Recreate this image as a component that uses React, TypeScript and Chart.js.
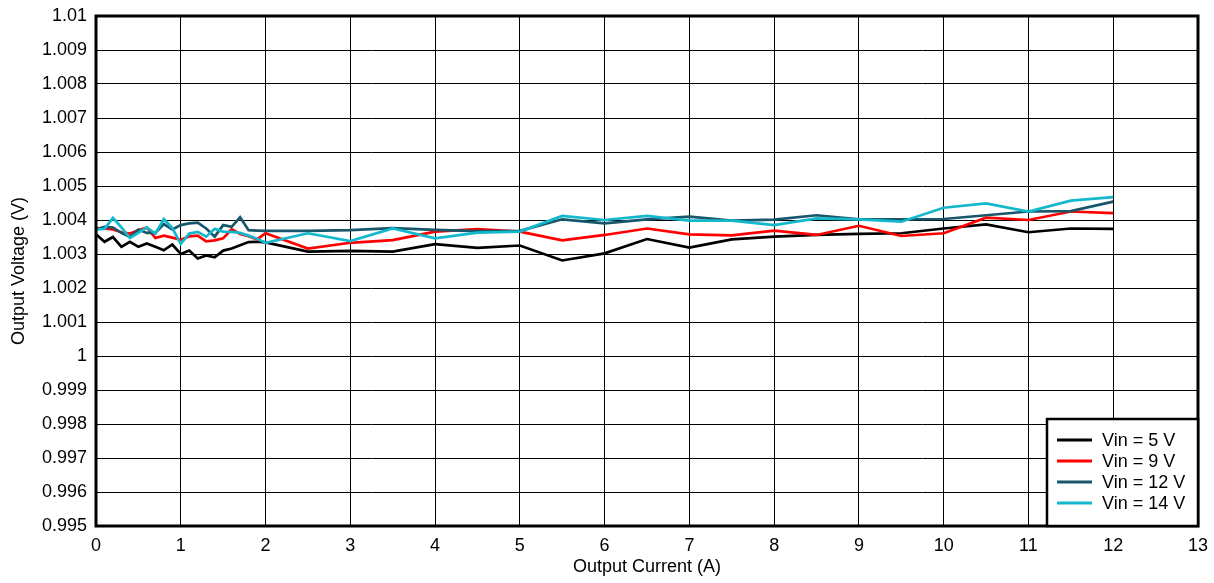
import React, { useEffect, useRef } from "react";
import { Chart, registerables } from "chart.js";

Chart.register(...registerables);

const currents = [
  0, 0.1, 0.2, 0.3, 0.4, 0.5, 0.6, 0.7, 0.8, 0.9, 1.0, 1.1, 1.2, 1.3, 1.4, 1.5, 1.6, 1.7, 1.8, 1.9, 2.0,
  2.5, 3, 3.5, 4, 4.5, 5, 5.5, 6, 6.5, 7, 7.5, 8, 8.5, 9, 9.5, 10, 10.5, 11, 11.5, 12,
];

const vin5 = [
  1.00358, 1.00336, 1.0035, 1.00321, 1.00336, 1.00321, 1.00331, 1.00321, 1.00311, 1.00328, 1.003,
  1.0031, 1.00287, 1.00296, 1.0029, 1.0031, 1.00316, 1.00326, 1.00335, 1.00336, 1.00334,
  1.00307, 1.00309, 1.00307, 1.00329, 1.00318, 1.00325, 1.00281, 1.00302, 1.00344, 1.00319,
  1.00343, 1.00351, 1.00356, 1.00359, 1.00361, 1.00375, 1.00387, 1.00364, 1.00375, 1.00374,
];

const vin9 = [
  1.00376, 1.00375, 1.00372, 1.00364, 1.0036, 1.0037, 1.00378, 1.00347, 1.00354, 1.00348, 1.00342,
  1.00352, 1.00354, 1.00337, 1.0034, 1.00346, 1.00373, 1.00359, 1.00352, 1.00343, 1.00361,
  1.00316, 1.00333, 1.00341, 1.00366, 1.00373, 1.00366, 1.0034, 1.00356, 1.00375, 1.00358,
  1.00355, 1.00369, 1.00356, 1.00383, 1.00353, 1.00361, 1.00407, 1.004, 1.00425, 1.0042,
];

const vin12 = [
  1.00372, 1.0038, 1.00378, 1.00362, 1.0035, 1.00372, 1.00362, 1.00362, 1.00388, 1.00372, 1.00385,
  1.0039, 1.00392, 1.00375, 1.00351, 1.00385, 1.0038, 1.00408, 1.0037, 1.00369, 1.00368,
  1.00368, 1.0037, 1.00376, 1.00371, 1.00367, 1.00368, 1.00402, 1.0039, 1.00402, 1.0041,
  1.00398, 1.00401, 1.00414, 1.00402, 1.00402, 1.00403, 1.00414, 1.00425, 1.00426, 1.00454,
];

const vin14 = [
  1.00372, 1.00374, 1.00406, 1.00378, 1.00347, 1.00362, 1.00378, 1.0036, 1.00403, 1.00376, 1.0033,
  1.0036, 1.00365, 1.00351, 1.00374, 1.00366, 1.00365, 1.00362, 1.00354, 1.00345, 1.00333,
  1.00361, 1.00338, 1.00375, 1.00346, 1.00363, 1.00366, 1.00412, 1.004, 1.00412, 1.00398,
  1.00398, 1.00385, 1.00405, 1.00402, 1.00395, 1.00436, 1.00449, 1.00425, 1.00457, 1.00467,
];

const seriesLabels = ["Vin = 5 V", "Vin = 9 V", "Vin = 12 V", "Vin = 14 V"];
const seriesColors = ["#000000", "#FF0000", "#17566B", "#14B8CC"];

const xTickValues = [0, 1, 2, 3, 4, 5, 6, 7, 8, 9, 10, 11, 12, 13];
const xTickLabels = ["0", "1", "2", "3", "4", "5", "6", "7", "8", "9", "10", "11", "12", "13"];
const yTickValues = [
  0.995, 0.996, 0.997, 0.998, 0.999, 1.0, 1.001, 1.002, 1.003, 1.004, 1.005, 1.006, 1.007, 1.008,
  1.009, 1.01,
];
const yTickLabels = [
  "0.995", "0.996", "0.997", "0.998", "0.999", "1", "1.001", "1.002", "1.003", "1.004", "1.005",
  "1.006", "1.007", "1.008", "1.009", "1.01",
];

const FONT = "'Liberation Sans', Arial, sans-serif";

const framePlugin = {
  id: "frameAndLegend",
  afterDraw(chart: any) {
    const { ctx, chartArea } = chart;
    const { left, top, right, bottom } = chartArea;
    ctx.save();
    // frame
    ctx.strokeStyle = "#000";
    ctx.lineWidth = 3;
    ctx.strokeRect(left, top, right - left, bottom - top);

    // legend box
    const bx = right - 151;
    const by = bottom - 107;
    const bw = 151;
    const bh = 107;
    ctx.fillStyle = "#fff";
    ctx.fillRect(bx, by, bw, bh);
    ctx.lineWidth = 2.5;
    ctx.strokeRect(bx, by, bw, bh);

    ctx.font = `18px ${FONT}`;
    ctx.textBaseline = "middle";
    ctx.textAlign = "left";
    seriesLabels.forEach((lab, i) => {
      const cy = by + 21 + i * 21;
      ctx.strokeStyle = seriesColors[i];
      ctx.lineWidth = 3;
      ctx.beginPath();
      ctx.moveTo(bx + 10, cy);
      ctx.lineTo(bx + 45, cy);
      ctx.stroke();
      ctx.fillStyle = "#000";
      ctx.fillText(lab, bx + 55, cy + 1);
    });
    ctx.restore();
  },
};

export default function App() {
  const ref = useRef<HTMLCanvasElement | null>(null);

  useEffect(() => {
    if (!ref.current) return;
    const seriesData = [vin5, vin9, vin12, vin14];
    const chart = new Chart(ref.current, {
      type: "line",
      data: {
        datasets: seriesData.map((vals, i) => ({
          label: seriesLabels[i],
          data: currents.map((x, j) => ({ x, y: vals[j] })),
          borderColor: seriesColors[i],
          backgroundColor: seriesColors[i],
          borderWidth: 2.7,
          pointRadius: 0,
          tension: 0,
          fill: false,
          order: 3 - i,
        })),
      },
      options: {
        animation: false,
        responsive: false,
        devicePixelRatio: 1,
        layout: { padding: { top: 16, right: 16, left: 0, bottom: 0 } },
        plugins: {
          legend: { display: false },
          tooltip: { enabled: false },
        },
        scales: {
          x: {
            type: "linear",
            min: 0,
            max: 13,
            afterBuildTicks: (s: any) => {
              s.ticks = xTickValues.map((v) => ({ value: v }));
            },
            afterFit: (s: any) => {
              s.height = 57;
              s.paddingLeft = 0;
              s.paddingRight = 0;
            },
            ticks: {
              autoSkip: false,
              maxRotation: 0,
              padding: 9,
              color: "#000",
              font: { size: 18, family: FONT },
              callback: (_v: any, i: number) => xTickLabels[i],
            },
            grid: { color: "#000", lineWidth: 1, drawTicks: false },
            border: { display: false },
            title: {
              display: true,
              text: "Output Current (A)",
              color: "#000",
              font: { size: 18, family: FONT },
              padding: { top: 0, bottom: 5 },
            },
          },
          y: {
            type: "linear",
            min: 0.995,
            max: 1.01,
            afterBuildTicks: (s: any) => {
              s.ticks = yTickValues.map((v) => ({ value: v }));
            },
            afterFit: (s: any) => {
              s.width = 96;
              s.paddingTop = 0;
              s.paddingBottom = 0;
            },
            ticks: {
              autoSkip: false,
              padding: 9,
              color: "#000",
              font: { size: 18, family: FONT },
              callback: (_v: any, i: number) => yTickLabels[i],
            },
            grid: { color: "#000", lineWidth: 1, drawTicks: false },
            border: { display: false },
            title: {
              display: true,
              text: "Output Voltage (V)",
              color: "#000",
              font: { size: 18, family: FONT },
              padding: { top: 8, bottom: 0 },
            },
          },
        },
      },
      plugins: [framePlugin],
    });
    return () => chart.destroy();
  }, []);

  return (
    <div style={{ position: "absolute", left: 0, top: 0, width: 1214, height: 583, background: "#fff" }}>
      <canvas ref={ref} width={1214} height={583} />
    </div>
  );
}
